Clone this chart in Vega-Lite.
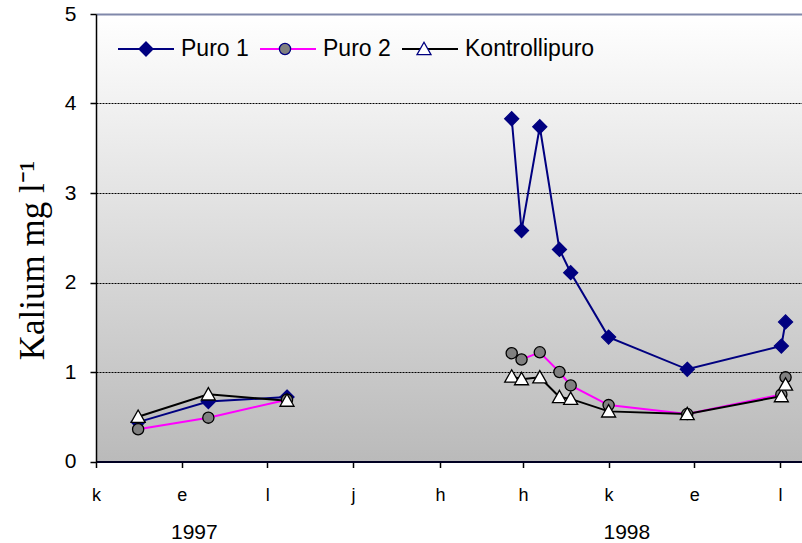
{
  "$schema": "https://vega.github.io/schema/vega-lite/v6.json",
  "autosize": {"type": "none"},
  "padding": {"left": 96, "top": 14, "right": 0, "bottom": 82},
  "width": 706,
  "height": 447.5,
  "background": "white",
  "config": {
    "view": {
      "stroke": null,
      "fill": {
        "gradient": "linear",
        "x1": 0, "y1": 0, "x2": 0, "y2": 1,
        "stops": [
          {"offset": 0, "color": "#ffffff"},
          {"offset": 1, "color": "#bababa"}
        ]
      }
    },
    "font": "Liberation Sans"
  },
  "datasets": {
    "kalium": [
      {"pvm": "1997-07-01", "jakso": "1997", "sarja": "Puro 1", "arvo": 0.44},
      {"pvm": "1997-08-20", "jakso": "1997", "sarja": "Puro 1", "arvo": 0.67},
      {"pvm": "1997-10-15", "jakso": "1997", "sarja": "Puro 1", "arvo": 0.72},
      {"pvm": "1998-03-24", "jakso": "1998", "sarja": "Puro 1", "arvo": 3.83},
      {"pvm": "1998-03-31", "jakso": "1998", "sarja": "Puro 1", "arvo": 2.58},
      {"pvm": "1998-04-13", "jakso": "1998", "sarja": "Puro 1", "arvo": 3.74},
      {"pvm": "1998-04-27", "jakso": "1998", "sarja": "Puro 1", "arvo": 2.37},
      {"pvm": "1998-05-05", "jakso": "1998", "sarja": "Puro 1", "arvo": 2.11},
      {"pvm": "1998-06-01", "jakso": "1998", "sarja": "Puro 1", "arvo": 1.39},
      {"pvm": "1998-07-27", "jakso": "1998", "sarja": "Puro 1", "arvo": 1.03},
      {"pvm": "1998-10-02", "jakso": "1998", "sarja": "Puro 1", "arvo": 1.29},
      {"pvm": "1998-10-05", "jakso": "1998", "sarja": "Puro 1", "arvo": 1.56},

      {"pvm": "1997-07-01", "jakso": "1997", "sarja": "Puro 2", "arvo": 0.36},
      {"pvm": "1997-08-20", "jakso": "1997", "sarja": "Puro 2", "arvo": 0.49},
      {"pvm": "1997-10-15", "jakso": "1997", "sarja": "Puro 2", "arvo": 0.69},
      {"pvm": "1998-03-24", "jakso": "1998", "sarja": "Puro 2", "arvo": 1.21},
      {"pvm": "1998-03-31", "jakso": "1998", "sarja": "Puro 2", "arvo": 1.14},
      {"pvm": "1998-04-13", "jakso": "1998", "sarja": "Puro 2", "arvo": 1.22},
      {"pvm": "1998-04-27", "jakso": "1998", "sarja": "Puro 2", "arvo": 1.0},
      {"pvm": "1998-05-05", "jakso": "1998", "sarja": "Puro 2", "arvo": 0.85},
      {"pvm": "1998-06-01", "jakso": "1998", "sarja": "Puro 2", "arvo": 0.63},
      {"pvm": "1998-07-27", "jakso": "1998", "sarja": "Puro 2", "arvo": 0.53},
      {"pvm": "1998-10-02", "jakso": "1998", "sarja": "Puro 2", "arvo": 0.75},
      {"pvm": "1998-10-05", "jakso": "1998", "sarja": "Puro 2", "arvo": 0.94},

      {"pvm": "1997-07-01", "jakso": "1997", "sarja": "Kontrollipuro", "arvo": 0.5},
      {"pvm": "1997-08-20", "jakso": "1997", "sarja": "Kontrollipuro", "arvo": 0.75},
      {"pvm": "1997-10-15", "jakso": "1997", "sarja": "Kontrollipuro", "arvo": 0.68},
      {"pvm": "1998-03-24", "jakso": "1998", "sarja": "Kontrollipuro", "arvo": 0.95},
      {"pvm": "1998-03-31", "jakso": "1998", "sarja": "Kontrollipuro", "arvo": 0.92},
      {"pvm": "1998-04-13", "jakso": "1998", "sarja": "Kontrollipuro", "arvo": 0.94},
      {"pvm": "1998-04-27", "jakso": "1998", "sarja": "Kontrollipuro", "arvo": 0.72},
      {"pvm": "1998-05-05", "jakso": "1998", "sarja": "Kontrollipuro", "arvo": 0.7},
      {"pvm": "1998-06-01", "jakso": "1998", "sarja": "Kontrollipuro", "arvo": 0.56},
      {"pvm": "1998-07-27", "jakso": "1998", "sarja": "Kontrollipuro", "arvo": 0.53},
      {"pvm": "1998-10-02", "jakso": "1998", "sarja": "Kontrollipuro", "arvo": 0.73},
      {"pvm": "1998-10-05", "jakso": "1998", "sarja": "Kontrollipuro", "arvo": 0.86}
    ],
    "vuodet": [
      {"pvm": "1997-08-10", "arvo": 0, "vuosi": "1997"},
      {"pvm": "1998-06-14", "arvo": 0, "vuosi": "1998"}
    ]
  },
  "data": {"name": "kalium"},
  "encoding": {
    "x": {
      "field": "pvm",
      "type": "temporal",
      "scale": {
        "type": "utc",
        "domain": [
          {"year": 1997, "month": 6, "date": 1, "utc": true},
          {"year": 1998, "month": 10, "date": 16, "hours": 17, "utc": true}
        ]
      },
      "axis": {
        "title": null,
        "values": [
          {"year": 1997, "month": 6, "date": 1, "utc": true},
          {"year": 1997, "month": 8, "date": 1, "utc": true},
          {"year": 1997, "month": 10, "date": 1, "utc": true},
          {"year": 1997, "month": 12, "date": 1, "utc": true},
          {"year": 1998, "month": 2, "date": 1, "utc": true},
          {"year": 1998, "month": 4, "date": 1, "utc": true},
          {"year": 1998, "month": 6, "date": 1, "utc": true},
          {"year": 1998, "month": 8, "date": 1, "utc": true},
          {"year": 1998, "month": 10, "date": 1, "utc": true}
        ],
        "labelExpr": "['t','h','m','h','t','k','h','e','s','l','m','j'][utcmonth(datum.value)]",
        "grid": false,
        "domainColor": "#000022",
        "domainWidth": 2,
        "tickColor": "#000000",
        "tickWidth": 1.5,
        "tickSize": 6,
        "labelFont": "Liberation Sans",
        "labelFontSize": 18,
        "labelColor": "#000000",
        "labelPadding": 19,
        "labelAngle": 0,
        "labelFlush": false,
        "labelOverlap": false
      }
    },
    "y": {
      "field": "arvo",
      "type": "quantitative",
      "scale": {"domain": [0, 5], "nice": false, "zero": true},
      "axis": {
        "title": "Kalium mg l⁻¹",
        "titleFont": "Liberation Serif",
        "titleFontSize": 35,
        "titleFontWeight": "normal",
        "titleColor": "#000000",
        "titleAngle": -90,
        "titleX": -53,
        "titleY": 246,
        "titleAlign": "center",
        "titleBaseline": "alphabetic",
        "values": [0, 1, 2, 3, 4, 5],
        "grid": true,
        "gridColor": {"condition": {"test": "datum.value === 5", "value": "#8088aa"}, "value": "#000000"},
        "gridDash": {"condition": {"test": "datum.value === 5", "value": []}, "value": [2, 1]},
        "gridWidth": {"condition": {"test": "datum.value === 5", "value": 2}, "value": 1},
        "domainColor": "#000000",
        "domainWidth": 1.5,
        "tickColor": "#000000",
        "tickWidth": 1.5,
        "tickSize": 6,
        "labelFont": "Liberation Sans",
        "labelFontSize": 21,
        "labelColor": "#000000",
        "labelPadding": 14,
        "labelFlush": false
      }
    }
  },
  "layer": [
    {
      "mark": {"type": "line", "strokeWidth": 2},
      "encoding": {
        "detail": {"field": "jakso"},
        "stroke": {
          "field": "sarja",
          "type": "nominal",
          "sort": ["Puro 1", "Puro 2", "Kontrollipuro"],
          "scale": {"range": ["#000080", "#ff00ff", "#000000"]},
          "legend": {
            "orient": "none",
            "legendX": 21,
            "legendY": 6,
            "direction": "horizontal",
            "title": null,
            "padding": 0,
            "symbolType": "stroke",
            "symbolSize": 3136,
            "symbolStrokeWidth": 2,
            "labelFont": "Liberation Sans",
            "labelFontSize": 23,
            "labelColor": "#000000",
            "labelOffset": 6,
            "labelLimit": 300,
            "columnPadding": 7
          }
        }
      }
    },
    {
      "mark": {"type": "point", "filled": true, "opacity": 1, "size": 3136, "strokeWidth": 1.3},
      "encoding": {
        "shape": {
          "field": "sarja",
          "type": "nominal",
          "scale": {
            "domain": ["Puro 1", "Puro 2", "Kontrollipuro"],
            "range": [
              "M0,-0.25L0.25,0L0,0.25L-0.25,0Z",
              "M-0.2,0A0.2,0.2,0,1,1,0.2,0A0.2,0.2,0,1,1,-0.2,0Z",
              "M0,-0.24L0.25,0.2L-0.25,0.2Z"
            ]
          },
          "legend": {
            "orient": "none",
            "legendX": 21,
            "legendY": 6,
            "direction": "horizontal",
            "title": null,
            "padding": 0,
            "symbolSize": 3136,
            "symbolOpacity": 1,
            "symbolStrokeWidth": 1.3,
            "labelFont": "Liberation Sans",
            "labelFontSize": 23,
            "labelColor": "#000000",
            "labelOpacity": 0,
            "labelOffset": 6,
            "labelLimit": 300,
            "columnPadding": 7
          }
        },
        "fill": {
          "field": "sarja",
          "type": "nominal",
          "scale": {
            "domain": ["Puro 1", "Puro 2", "Kontrollipuro"],
            "range": ["#000080", "#808080", "#ffffff"]
          }
        },
        "stroke": {
          "condition": {"test": "datum.sarja !== 'Puro 1'", "value": "#000000"},
          "value": "#000080"
        }
      }
    },
    {
      "data": {"name": "vuodet"},
      "mark": {"type": "text", "dy": 77, "baseline": "alphabetic", "align": "center", "font": "Liberation Sans", "fontSize": 21, "color": "#000000"},
      "encoding": {
        "text": {"field": "vuosi"}
      }
    }
  ]
}
